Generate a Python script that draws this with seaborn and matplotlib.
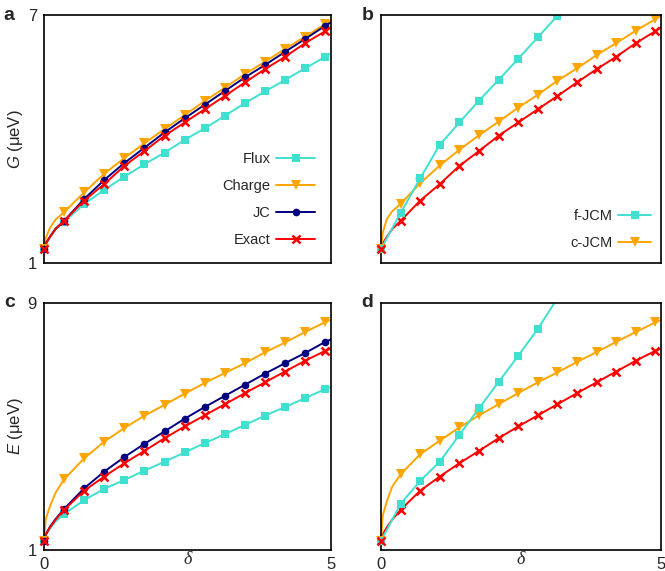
import matplotlib
matplotlib.use("Agg")
import matplotlib.pyplot as plt
from matplotlib.lines import Line2D
import seaborn as sns

sns.set_theme(style="white")
plt.rcParams['font.family'] = ['Liberation Sans', 'DejaVu Sans']
plt.rcParams['mathtext.fontset'] = 'custom'
plt.rcParams['mathtext.it'] = 'Liberation Sans:italic'
plt.rcParams['mathtext.rm'] = 'Liberation Sans'

# detuning grid where markers sit
delta_mark = [0, 0.35, 0.7, 1.05, 1.4, 1.75, 2.1, 2.45, 2.8, 3.15, 3.5, 3.85, 4.2, 4.55, 4.9]
# extra points near the origin (line only) and line end
delta_head = [0.03, 0.1, 0.2]
delta_end = 5.0

# panel a: coupling G
flux_G_head = [1.45, 1.62, 1.80]
flux_G = [1.34, 2.00, 2.43, 2.77, 3.09, 3.39, 3.67, 3.98, 4.26, 4.56, 4.87, 5.15, 5.43, 5.71, 5.99]
flux_G_end = 6.07
charge_G_head = [1.60, 1.84, 2.05]
charge_G = [1.34, 2.23, 2.71, 3.16, 3.54, 3.90, 4.24, 4.58, 4.92, 5.24, 5.57, 5.87, 6.18, 6.48, 6.78]
charge_G_end = 6.87
jc_G_head = [1.47, 1.63, 1.83]
jc_G = [1.34, 2.02, 2.55, 3.01, 3.42, 3.79, 4.16, 4.50, 4.83, 5.16, 5.49, 5.79, 6.11, 6.42, 6.74]
jc_G_end = 6.82
exact_G_head = [1.47, 1.62, 1.82]
exact_G = [1.34, 2.02, 2.51, 2.91, 3.35, 3.71, 4.08, 4.40, 4.72, 5.04, 5.37, 5.69, 5.99, 6.32, 6.61]
exact_G_end = 6.70

# panel b
fjcm_G = [1.34, 2.21, 3.05, 3.86, 4.40, 4.93, 5.43, 5.94, 6.46, 6.98]
cjcm_G_head = [1.72, 2.05, 2.25]
cjcm_G = [1.34, 2.43, 2.93, 3.36, 3.74, 4.09, 4.42, 4.76, 5.07, 5.41, 5.71, 6.03, 6.32, 6.62, 6.90]
cjcm_G_end = 6.98

# panel c: energy E
flux_E_head = [1.48, 1.68, 1.92]
flux_E = [1.30, 2.16, 2.62, 2.98, 3.27, 3.57, 3.86, 4.16, 4.46, 4.75, 5.05, 5.35, 5.63, 5.92, 6.21]
flux_E_end = 6.28
charge_E_head = [2.00, 2.40, 2.85]
charge_E = [1.30, 3.29, 3.97, 4.51, 4.95, 5.35, 5.70, 6.06, 6.41, 6.73, 7.05, 7.40, 7.72, 8.06, 8.38]
charge_E_end = 8.46
jc_E_head = [1.50, 1.74, 2.00]
jc_E = [1.30, 2.33, 3.00, 3.54, 4.01, 4.44, 4.84, 5.25, 5.63, 5.99, 6.35, 6.71, 7.05, 7.38, 7.74]
jc_E_end = 7.82
exact_E_head = [1.50, 1.72, 1.98]
exact_E = [1.30, 2.30, 2.92, 3.38, 3.81, 4.21, 4.62, 5.00, 5.36, 5.72, 6.08, 6.43, 6.78, 7.13, 7.45]
exact_E_end = 7.52

# panel d (last f-JCM point lies above the top of the axes)
fjcm_E = [1.30, 2.49, 3.24, 3.86, 4.73, 5.59, 6.44, 7.29, 8.16, 9.15]
cjcm_E_head = [2.10, 2.55, 3.05]
cjcm_E = [1.30, 3.45, 4.10, 4.54, 4.97, 5.36, 5.72, 6.08, 6.43, 6.75, 7.09, 7.41, 7.74, 8.06, 8.37]
cjcm_E_end = 8.45

TURQ = '#40e0d0'
ORANGE = '#ffa500'
NAVY = '#000080'
RED = '#ff0000'

STYLE = {
    'flux': dict(color=TURQ, marker='s', ms=5.2, mew=0),
    'charge': dict(color=ORANGE, marker='v', ms=6.5, mew=0),
    'jc': dict(color=NAVY, marker='o', ms=5.5, mew=0),
    'exact': dict(color=RED, marker='x', ms=6, mew=1.8),
}
LW = 1.4


def draw_series(ax, y_mark, kind, head=None, end=None):
    st = STYLE[kind]
    n = len(y_mark)
    xs = [delta_mark[0]]
    ys = [y_mark[0]]
    if head is not None:
        xs += delta_head
        ys += head
    xs += delta_mark[1:n]
    ys += y_mark[1:]
    if end is not None:
        xs.append(delta_end)
        ys.append(end)
    sns.lineplot(x=xs, y=ys, ax=ax, color=st['color'], lw=LW, sort=False)
    # first marker sits on the left spine and is drawn unclipped
    ax.plot(delta_mark[:1], y_mark[:1], ls='none', marker=st['marker'], ms=st['ms'],
            mew=st['mew'], color=st['color'], clip_on=False,
            zorder=6 if kind == 'exact' else 5)
    ax.plot(delta_mark[1:n], y_mark[1:], ls='none', marker=st['marker'], ms=st['ms'],
            mew=st['mew'], color=st['color'])


def handle(kind):
    st = STYLE[kind]
    return Line2D([], [], color=st['color'], lw=LW, marker=st['marker'], ms=st['ms'], mew=st['mew'])


def style_axes(ax, ymax, left, bottom):
    ax.set_xlim(0, 5)
    ax.set_ylim(1, ymax)
    for s in ax.spines.values():
        s.set_color('black')
        s.set_linewidth(1.2)
    ax.tick_params(length=0, labelsize=12, pad=5)
    ax.set_xticks([0, 5] if bottom else [])
    ax.set_yticks([1, ymax] if left else [])
    ax.set_xlabel('')
    ax.set_ylabel('')


fig = plt.figure(figsize=(6.65, 5.71), dpi=100)
ax_a = fig.add_axes([0.0662, 0.5394, 0.4315, 0.4343])
ax_b = fig.add_axes([0.5729, 0.5394, 0.4211, 0.4343])
ax_c = fig.add_axes([0.0662, 0.0368, 0.4315, 0.4326])
ax_d = fig.add_axes([0.5729, 0.0368, 0.4211, 0.4326])

leg_kw = dict(loc='lower right', frameon=False, markerfirst=False, fontsize=10.5,
              handletextpad=0.4, labelspacing=0.91, borderaxespad=0)

# a
draw_series(ax_a, flux_G, 'flux', flux_G_head, flux_G_end)
draw_series(ax_a, charge_G, 'charge', charge_G_head, charge_G_end)
draw_series(ax_a, jc_G, 'jc', jc_G_head, jc_G_end)
draw_series(ax_a, exact_G, 'exact', exact_G_head, exact_G_end)
style_axes(ax_a, 7, True, False)
ax_a.set_ylabel('$G$ (μeV)', fontsize=12, labelpad=2)
ax_a.legend([handle(k) for k in ['flux', 'charge', 'jc', 'exact']],
            ['Flux', 'Charge', 'JC', 'Exact'], handlelength=2.67,
            bbox_to_anchor=(0.965, 0.039), **leg_kw)

# b
draw_series(ax_b, exact_G, 'exact', exact_G_head, exact_G_end)
draw_series(ax_b, cjcm_G, 'charge', cjcm_G_head, cjcm_G_end)
draw_series(ax_b, fjcm_G, 'flux')
style_axes(ax_b, 7, False, False)
ax_b.legend([handle('flux'), handle('charge')], ['f-JCM', 'c-JCM'], handlelength=2.26,
            bbox_to_anchor=(0.986, 0.027), **leg_kw)

# c
draw_series(ax_c, flux_E, 'flux', flux_E_head, flux_E_end)
draw_series(ax_c, charge_E, 'charge', charge_E_head, charge_E_end)
draw_series(ax_c, jc_E, 'jc', jc_E_head, jc_E_end)
draw_series(ax_c, exact_E, 'exact', exact_E_head, exact_E_end)
style_axes(ax_c, 9, True, True)
ax_c.set_ylabel('$E$ (μeV)', fontsize=12, labelpad=2)

# d
draw_series(ax_d, exact_E, 'exact', exact_E_head, exact_E_end)
draw_series(ax_d, cjcm_E, 'charge', cjcm_E_head, cjcm_E_end)
draw_series(ax_d, fjcm_E, 'flux')
style_axes(ax_d, 9, False, True)

for ax in (ax_c, ax_d):
    ax.set_xlabel('δ', fontsize=13, family='Liberation Serif', style='italic', labelpad=-15)

for ax, lab in zip((ax_a, ax_b, ax_c, ax_d), 'abcd'):
    ax.text(-0.14 if lab in 'ac' else -0.07, 1.0, lab, transform=ax.transAxes,
            fontsize=14, fontweight='bold', ha='left', va='center')

fig.savefig('out.png', dpi=100)
